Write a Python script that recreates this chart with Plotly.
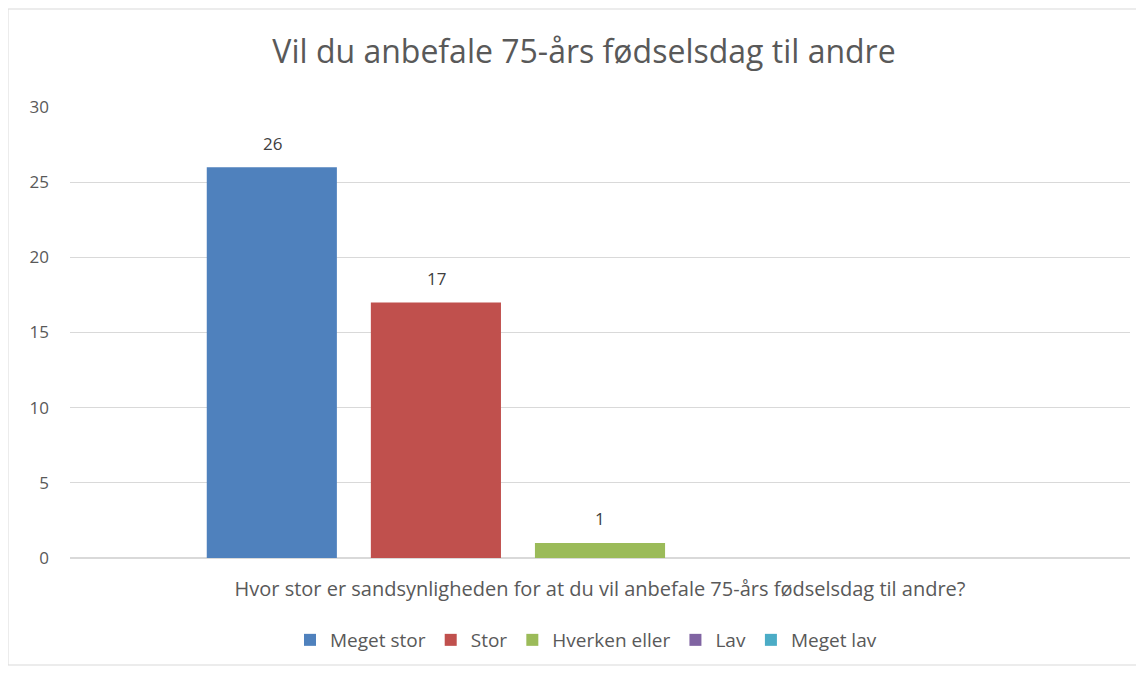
import plotly.graph_objects as go

# Data
category = ["Hvor stor er sandsynligheden for at du vil anbefale 75-års fødselsdag til andre?"]
series_names = ["Meget stor", "Stor", "Hverken eller", "Lav", "Meget lav"]
series_values = [26, 17, 1, 0, 0]
series_colors = ["#4F81BD", "#C0504D", "#9BBB59", "#8064A2", "#4BACC6"]
y_ticks = [0, 5, 10, 15, 20, 25, 30]

FONT = "Open Sans"
GREY = "#595959"

# the page body adds an 8px offset, so the figure is 8px smaller
W, H = 1136, 665
PLOT_L, PLOT_R, PLOT_T, PLOT_B = 70, 1130, 107, 558  # page pixels
SLOT = 164  # px between bar centres in the group

fig = go.Figure()
for name, val, col in zip(series_names, series_values, series_colors):
    fig.add_trace(go.Bar(
        x=category,
        y=[val],
        name=name,
        marker=dict(color=col, line=dict(width=0)),
    ))

# value labels above the bars (zero values are not labelled)
n = len(series_values)
for i, val in enumerate(series_values):
    if val:
        fig.add_annotation(
            x=category[0], y=val, xref="x", yref="y",
            text=str(val), showarrow=False,
            xshift=(i - (n - 1) / 2) * SLOT, yshift=24,
            yanchor="middle",
            font=dict(family=FONT, size=17, color="#404040"),
        )

pw = PLOT_R - PLOT_L
ph = PLOT_B - PLOT_T

fig.update_layout(
    width=W,
    height=H,
    barmode="group",
    bargap=0.226,
    bargroupgap=0.207,
    plot_bgcolor="white",
    paper_bgcolor="white",
    margin=dict(l=PLOT_L - 8, r=1144 - PLOT_R, t=PLOT_T - 8, b=673 - PLOT_B),
    title=dict(
        text="Vil du anbefale 75-års fødselsdag til andre",
        x=(584 - PLOT_L) / pw, xref="paper", xanchor="center",
        y=1 - (52 - 8) / H, yanchor="middle",
        font=dict(family=FONT, size=32, color=GREY),
    ),
    legend=dict(
        orientation="h",
        x=(586 - PLOT_L) / pw, xanchor="center",
        y=(PLOT_B - 640) / ph, yanchor="middle",
        font=dict(family=FONT, size=19, color=GREY),
        itemwidth=30,
        traceorder="normal",
    ),
    showlegend=True,
)

fig.update_yaxes(
    range=[0, 30],
    tickvals=y_ticks,
    showgrid=True,
    gridcolor="#D9D9D9",
    gridwidth=1,
    zeroline=True,
    zerolinecolor="#D9D9D9",
    showline=False,
    ticks="",
    ticklabelstandoff=20,
    tickfont=dict(family=FONT, size=17, color=GREY),
)
fig.update_xaxes(
    showgrid=False,
    showline=False,
    ticks="",
    ticklabelstandoff=17,
    tickfont=dict(family=FONT, size=20, color=GREY),
)

# Chart area border
fig.add_shape(
    type="rect", xref="paper", yref="paper",
    x0=(8 - PLOT_L) / pw, x1=(1138 - PLOT_L) / pw,
    y0=(PLOT_B - 665) / ph, y1=(PLOT_B - 9) / ph,
    line=dict(color="#D9D9D9", width=1),
    layer="below",
)

fig.write_html("out.html")
